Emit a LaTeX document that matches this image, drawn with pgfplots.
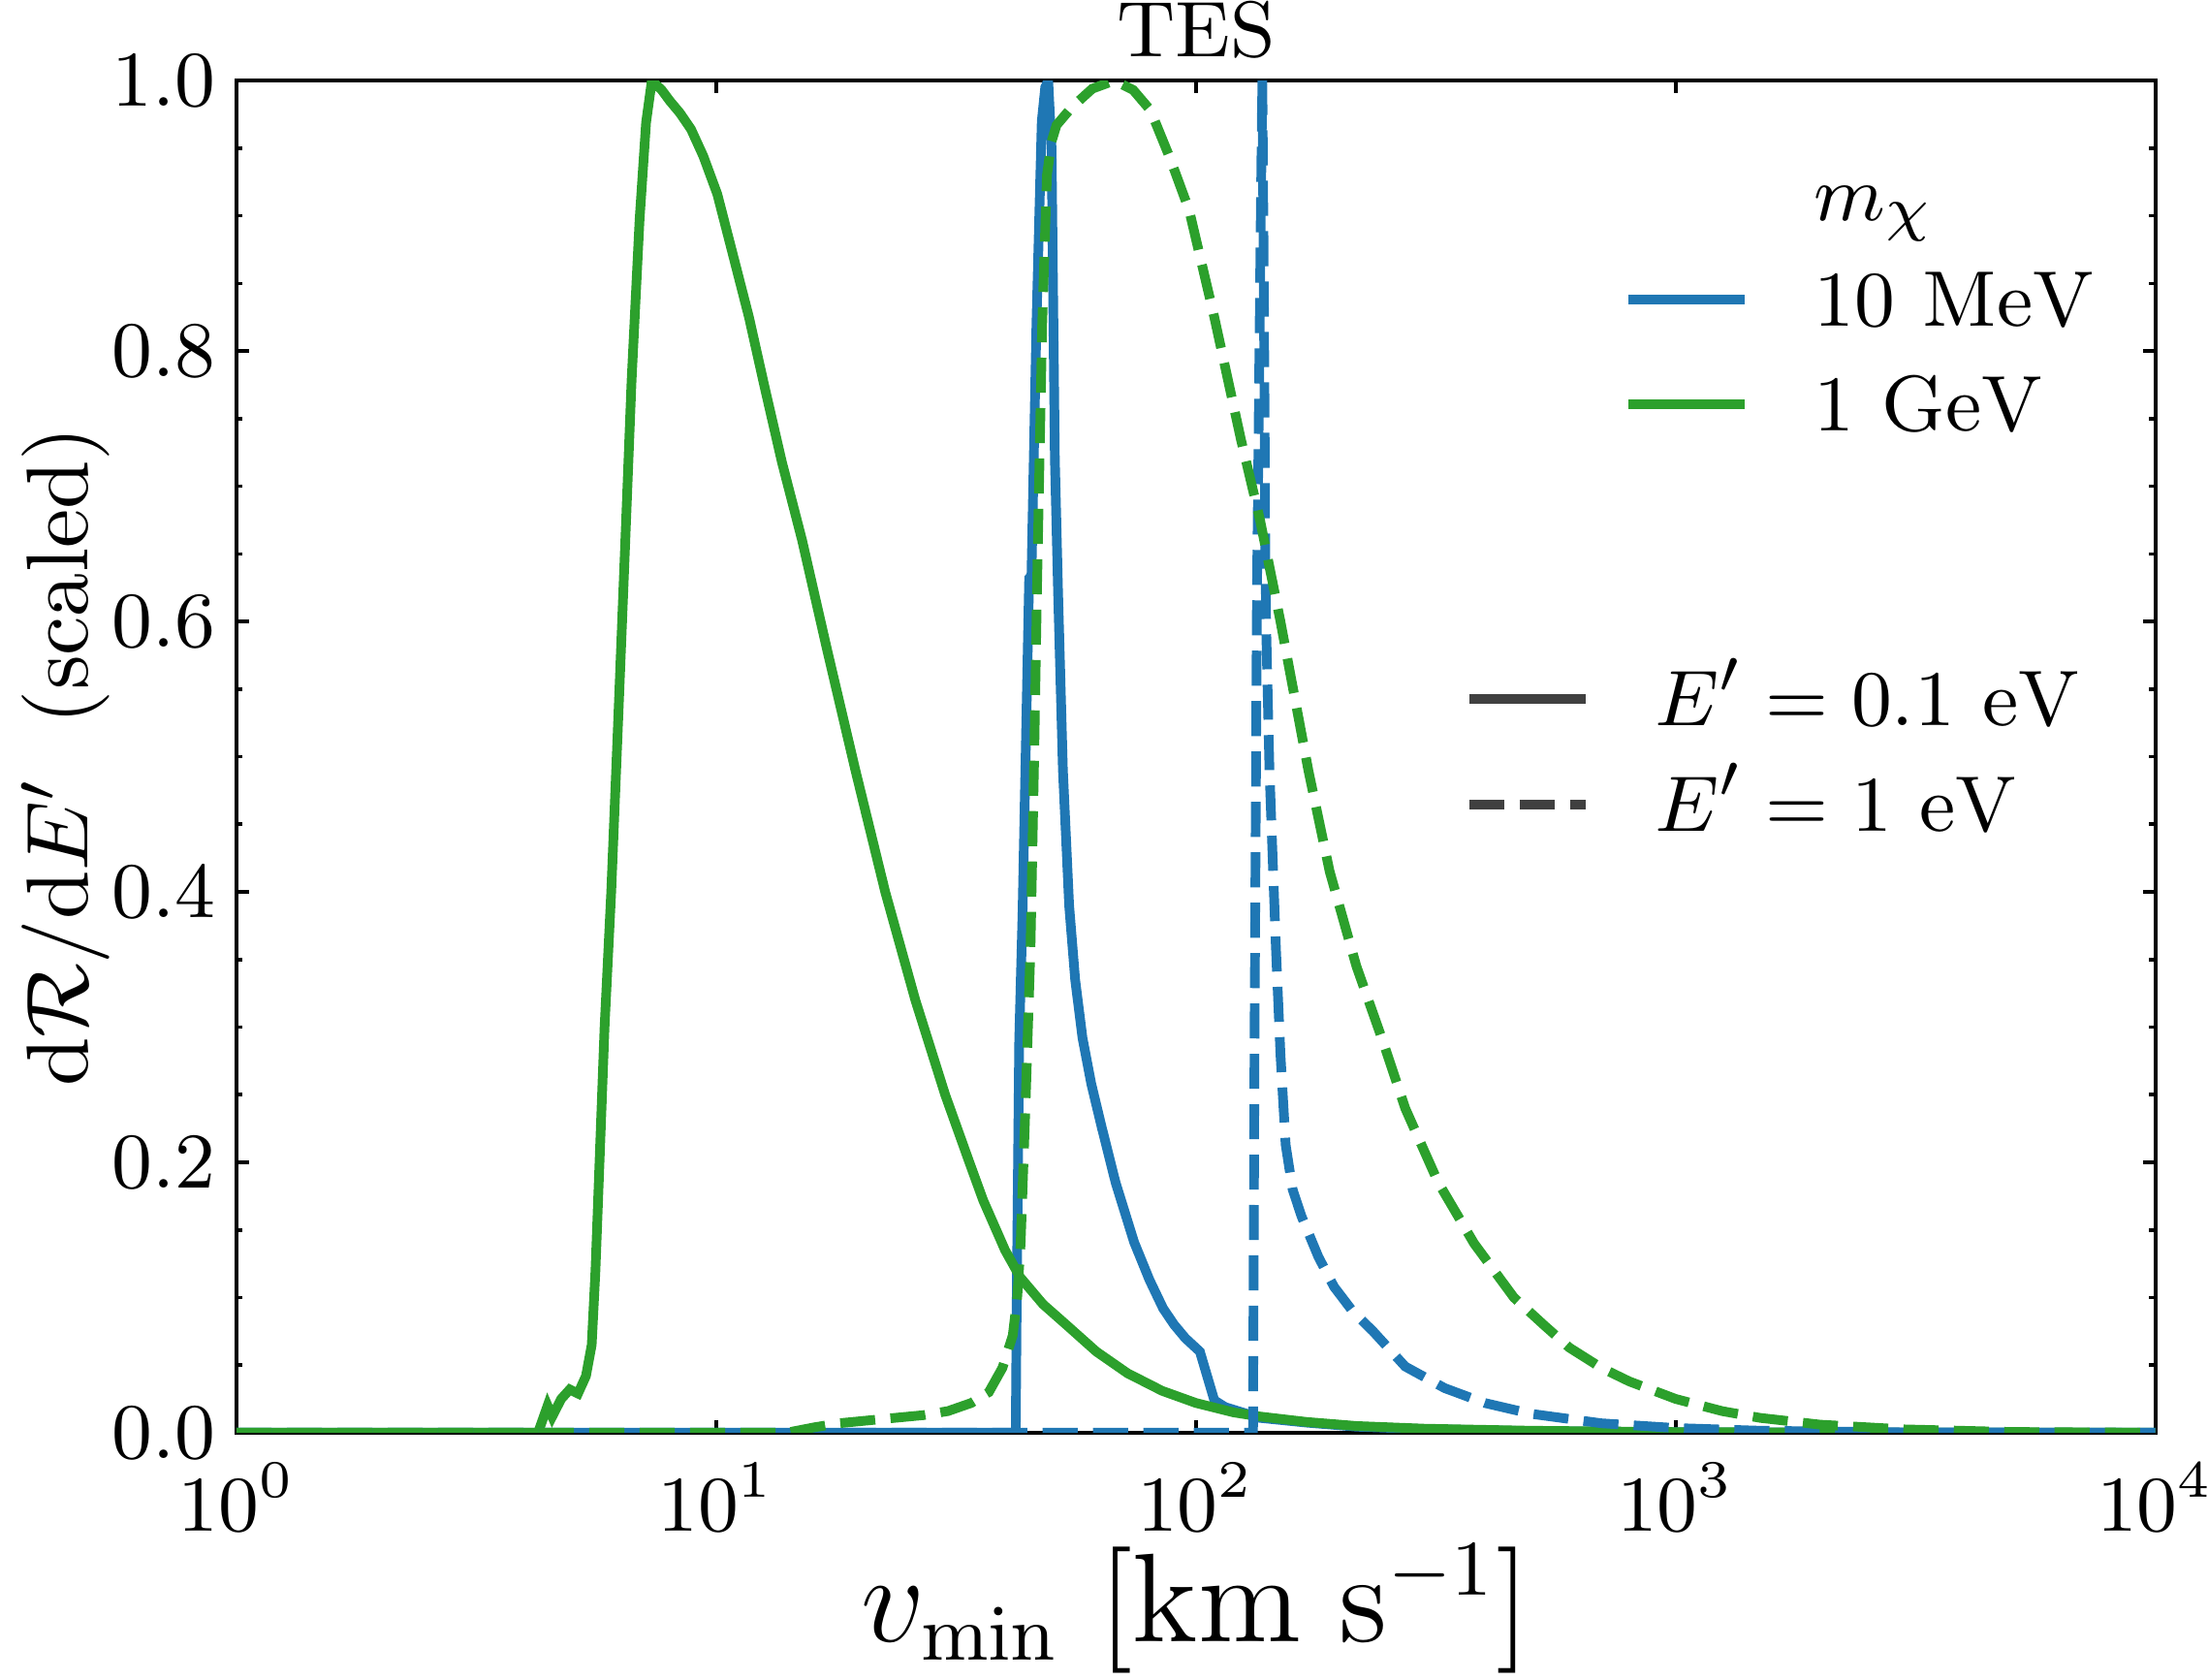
\documentclass[border=0pt]{standalone}
\usepackage{pgfplots}
\pgfplotsset{compat=1.18}
\definecolor{tabblue}{HTML}{1F77B4}
\definecolor{tabgreen}{HTML}{2CA02C}
\definecolor{leggray}{HTML}{404040}
\begin{document}
\begin{tikzpicture}
\begin{axis}[
  name=ax,
  scale only axis, width=219pt, height=154.3pt,
  xmode=log, log basis x=10,
  xmin=1, xmax=10000, ymin=0, ymax=1,
  xtick={1,10,100,1000,10000},
  ytick={0,0.2,0.4,0.6,0.8,1},
  minor y tick num=3,
  tick align=inside,
  major tick length=1.4pt, minor tick length=0.7pt,
  axis line style={line width=0.4pt},
  every tick/.style={black, line width=0.4pt},
  tick label style={font=\fontsize{9}{10}\selectfont},
  yticklabel style={xshift=1.1pt, /pgf/number format/.cd, fixed, fixed zerofill, precision=1},
  xlabel={$v_{\mathrm{min}}\ \Big[\mathrm{km\ s^{-1}}\Big]$},
  xlabel style={font=\fontsize{13.5}{15}\selectfont, at={([yshift=-23.8pt]axis description cs:0.5,0)}, anchor=base},
  ylabel={$\mathrm{d}\mathcal{R}/\mathrm{d}E'$\hspace{6pt}(scaled)},
  ylabel style={font=\fontsize{10}{12}\selectfont, at={([xshift=-19.5pt]axis description cs:0,0.5)}, anchor=center},
  legend cell align=left,
  legend image code/.code={\draw[#1] (0pt,0.55pt) -- (13.3pt,0.55pt);},
  legend style={draw=none, fill=none, at={(axis description cs:0.722,0.943)}, anchor=north west,
    font=\fontsize{9.3}{10}\selectfont, row sep=3pt, inner sep=0pt,
    nodes={inner sep=0pt, text height=7pt, text depth=2pt}},
  every axis plot/.append style={line width=1.1pt},
  clip=true,
]
\addlegendimage{empty legend}
\addlegendentry{\hspace{7.3pt}$m_\chi$}
\addlegendimage{tabblue, line width=1.1pt}
\addlegendentry{\hspace{7.3pt}$10\ \mathrm{MeV}$}
\addlegendimage{tabgreen, line width=1.1pt}
\addlegendentry{\hspace{7.3pt}$1\ \mathrm{GeV}$}

% 10 MeV, E'=0.1 eV
\addplot[tabblue, forget plot] coordinates {
(1,0)(42.1,0)(42.3,0.1)(42.8,0.29)(43.5,0.385)(44.9,0.632)(45.4,0.634)(46.5,0.82)(47.7,0.97)(48.5,0.995)(49.2,1.0)(50,0.95)(50.8,0.72)(51.6,0.62)(52.8,0.49)(54.4,0.39)(56,0.335)(58,0.292)(60.5,0.258)(63.6,0.226)(68,0.185)(74.3,0.141)(80,0.113)(85.4,0.092)(90,0.08)(95,0.07)(101.9,0.06)(109.2,0.024)(115,0.019)(136,0.011)(170,0.0075)(216,0.0045)(300,0.0027)(500,0.0012)(1000,0.0004)(3000,0.0001)(10000,0)
};
% 1 GeV, E'=0.1 eV
\addplot[tabgreen, forget plot] coordinates {
(1,0)(4.25,0)(4.45,0.02)(4.55,0.012)(4.75,0.025)(4.95,0.032)(5.15,0.029)(5.35,0.042)(5.5,0.065)(5.6,0.12)(5.71,0.2)(5.85,0.3)(6.04,0.4)(6.25,0.53)(6.46,0.658)(6.66,0.778)(6.92,0.897)(7.14,0.969)(7.34,1.0)(7.7,0.993)(8.0,0.985)(8.4,0.976)(8.86,0.964)(9.4,0.944)(10.05,0.916)(10.8,0.873)(11.7,0.825)(12.6,0.774)(13.7,0.718)(15.1,0.66)(17,0.58)(19.5,0.49)(22.5,0.40)(26,0.32)(30,0.25)(33.7,0.2)(36,0.172)(40,0.135)(43,0.115)(48,0.095)(53.6,0.08)(62,0.06)(72,0.044)(85,0.031)(100,0.022)(120,0.015)(136,0.012)(170,0.008)(216,0.005)(300,0.003)(500,0.0015)(1000,0.0005)(3000,0.0001)(10000,0)
};
% 10 MeV, E'=1 eV
\addplot[tabblue, dash pattern=on 4pt off 1.75pt, forget plot] coordinates {
(1,0)(131.5,0)(132.5,0.3)(134,0.62)(136.5,0.9)(137.5,1.0)(138.5,0.85)(139.5,0.65)(140.2,0.589)(142.3,0.49)(146.8,0.358)(150,0.28)(153.8,0.213)(159,0.18)(166,0.16)(180,0.13)(194,0.108)(212,0.09)(234,0.075)(273,0.049)(330,0.033)(400,0.022)(500,0.014)(700,0.007)(1000,0.0035)(1500,0.0015)(3000,0.0003)(10000,0)
};
% 1 GeV, E'=1 eV
\addplot[tabgreen, dash pattern=on 4pt off 1.75pt, forget plot] coordinates {
(1,0)(14,0)(16,0.004)(18,0.007)(22,0.01)(27,0.013)(30.4,0.016)(34,0.022)(37,0.03)(39.5,0.048)(41.5,0.072)(42.4,0.1)(43.1,0.14)(44.1,0.24)(45.2,0.36)(46,0.5)(46.6,0.62)(47.8,0.82)(48.9,0.93)(50,0.955)(51.2,0.967)(55,0.98)(60.8,0.994)(67.6,1.0)(74,0.993)(80.4,0.978)(88.2,0.943)(96.8,0.904)(109.2,0.825)(124,0.735)(136,0.675)(150,0.6)(171.5,0.49)(190,0.415)(216,0.345)(245,0.29)(273,0.24)(320,0.185)(380,0.14)(460,0.1)(530,0.08)(600,0.063)(700,0.048)(800,0.038)(1000,0.025)(1250,0.016)(1500,0.011)(2000,0.006)(3000,0.0025)(5000,0.0006)(10000,0)
};
\end{axis}
\begin{axis}[
  at={(ax.south west)}, anchor=south west,
  scale only axis, width=219pt, height=154.3pt,
  hide axis, xmin=0, xmax=1, ymin=0, ymax=1,
  legend cell align=left,
  legend image code/.code={\draw[#1] (0pt,0.55pt) -- (13.3pt,0.55pt);},
  legend style={draw=none, fill=none, at={(axis description cs:0.639,0.5694)}, anchor=north west,
    font=\fontsize{9.3}{10}\selectfont, row sep=3pt, inner sep=0pt,
    nodes={inner sep=0pt, text height=7pt, text depth=2pt}},
]
\addlegendimage{leggray, line width=1.1pt}
\addlegendentry{\hspace{7.3pt}$E' = 0.1\ \mathrm{eV}$}
\addlegendimage{leggray, line width=1.1pt, dash pattern=on 4pt off 1.75pt}
\addlegendentry{\hspace{7.3pt}$E' = 1\ \mathrm{eV}$}
\end{axis}
\node[font=\fontsize{9}{10}\selectfont, anchor=base, inner sep=0pt] at ([yshift=2.7pt]ax.north) {TES};
\pgfresetboundingbox
\path ([shift={(-27pt,-28.2pt)}]ax.south west) rectangle ++(252pt,191.7pt);
\end{tikzpicture}
\end{document}
